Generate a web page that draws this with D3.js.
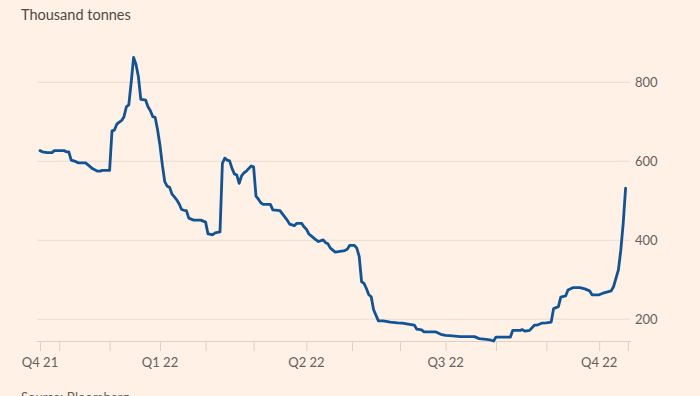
<!DOCTYPE html>
<html>
<head>
<meta charset="utf-8">
<script src="https://cdn.jsdelivr.net/npm/d3@7/dist/d3.min.js"></script>
<style>
  html, body { margin: 0; padding: 0; background: #fff1e5; }
  #chart { width: 700px; height: 396px; overflow: hidden; }
</style>
</head>
<body>
<div id="chart"></div>
<script>
// trading-day index since the start of the series, and LME stocks (thousand tonnes)
var days = [0, 1, 3, 5, 6, 10, 11, 12, 13, 15, 16, 19, 20, 22, 24, 25, 26, 29, 30, 31,
  32, 33, 34, 35, 36, 37, 38, 39, 40, 41, 42, 43, 44, 45, 46, 47, 48, 49, 50, 51,
  52, 53, 54, 55, 56, 57, 58, 59, 60, 61, 62, 64, 67, 69, 70, 72, 73, 75, 76, 77,
  78, 79, 80, 81, 82, 83, 84, 85, 86, 87, 88, 89, 90, 91, 92, 93, 96, 97, 100, 101,
  103, 104, 106, 107, 109, 110, 111, 112, 113, 115, 116, 118, 119, 120, 121, 123, 125, 127, 128, 129,
  131, 132, 133, 134, 135, 136, 137, 138, 139, 141, 143, 146, 149, 151, 154, 156, 157, 159, 160, 165,
  167, 169, 172, 175, 181, 183, 186, 188, 189, 190, 196, 197, 200, 201, 202, 204, 206, 207, 209, 211,
  213, 214, 216, 217, 219, 220, 222, 225, 227, 229, 230, 233, 235, 238, 239, 241, 242, 243, 244];
var tonnes = [627, 624, 622, 622, 627, 627, 624, 624, 603, 599, 596, 596, 591, 581, 575, 575, 577, 577, 677, 679,
  694, 699, 703, 713, 738, 743, 800, 863, 845, 814, 757, 756, 755, 738, 728, 713, 711, 679, 640, 590,
  548, 537, 534, 517, 510, 502, 492, 478, 476, 475, 456, 451, 451, 446, 416, 414, 419, 421, 595, 608,
  603, 601, 582, 568, 565, 544, 563, 571, 575, 582, 588, 586, 512, 504, 495, 491, 491, 477, 475, 467,
  451, 441, 437, 443, 443, 434, 428, 416, 411, 401, 397, 401, 394, 391, 380, 370, 372, 374, 377, 387,
  387, 380, 359, 295, 291, 278, 262, 257, 224, 196, 196, 193, 191, 190, 187, 185, 175, 173, 168, 168,
  162, 159, 158, 156, 156, 151, 149, 147, 145, 155, 155, 172, 172, 174, 170, 172, 185, 185, 190, 191,
  193, 227, 232, 256, 259, 274, 280, 280, 277, 272, 262, 262, 267, 272, 283, 325, 375, 443, 532];

var quarterTicks = [0, 50, 111, 169, 233];
var quarterLabels = ["Q4 21", "Q1 22", "Q2 22", "Q3 22", "Q4 22"];
var monthTicks = [0, 8, 29, 50, 69, 89, 111, 130, 150, 169, 190, 211, 233, 245];
var yTicks = [200, 400, 600, 800];

(function () {
  var width = 700;
  var height = 396;
  var font = "Lato, 'Open Sans', sans-serif";
  var textColor = "#66605c";

  var svg = d3.select("#chart").append("svg")
    .attr("width", width)
    .attr("height", height)
    .attr("viewBox", "0 0 " + width + " " + height);

  svg.append("rect")
    .attr("width", width)
    .attr("height", height)
    .attr("fill", "#fff1e5");

  var x = d3.scaleLinear().domain([0, 245]).range([40, 628]);
  var y = d3.scaleLinear().domain([145, 800]).range([341, 82.3]);

  // horizontal gridlines
  svg.append("g")
    .selectAll("line")
    .data(yTicks)
    .join("line")
    .attr("x1", 37)
    .attr("x2", 630)
    .attr("y1", function (d) { return y(d); })
    .attr("y2", function (d) { return y(d); })
    .attr("stroke", "#e9ddd2")
    .attr("stroke-width", 1);

  // y labels on the right
  svg.append("g")
    .selectAll("text")
    .data(yTicks)
    .join("text")
    .attr("x", 635)
    .attr("y", function (d) { return y(d); })
    .attr("dy", "0.35em")
    .attr("font-family", font)
    .attr("font-size", 13)
    .attr("fill", textColor)
    .text(function (d) { return d; });

  // bottom axis with monthly ticks, quarter labels
  var xAxis = svg.append("g")
    .attr("transform", "translate(0," + y(145) + ")")
    .call(d3.axisBottom(x)
      .tickValues(monthTicks)
      .tickSize(10)
      .tickFormat(""));

  xAxis.select(".domain")
    .attr("d", "M37,0.5H631")
    .attr("stroke", "#ddd1c6");
  xAxis.selectAll(".tick line")
    .attr("stroke", "#ddd1c6");

  svg.append("g")
    .selectAll("text")
    .data(quarterTicks)
    .join("text")
    .attr("x", function (d) { return x(d); })
    .attr("y", y(145) + 26)
    .attr("text-anchor", "middle")
    .attr("font-family", font)
    .attr("font-size", 13)
    .attr("fill", textColor)
    .text(function (d, i) { return quarterLabels[i]; });

  var points = days.map(function (d, i) {
    return [d, tonnes[i]];
  });

  var line = d3.line()
    .x(function (p) { return x(p[0]); })
    .y(function (p) { return y(p[1]); });

  svg.append("path")
    .datum(points)
    .attr("d", line)
    .attr("fill", "none")
    .attr("stroke", "#0f5499")
    .attr("stroke-width", 2.8)
    .attr("stroke-linejoin", "round")
    .attr("stroke-linecap", "round");

  svg.append("text")
    .attr("x", 21)
    .attr("y", 20)
    .attr("font-family", font)
    .attr("font-size", 14.5)
    .attr("fill", "#4e4945")
    .text("Thousand tonnes");

  svg.append("text")
    .attr("x", 21)
    .attr("y", 402)
    .attr("font-family", font)
    .attr("font-size", 13)
    .attr("fill", textColor)
    .text("Source: Bloomberg");
}());
</script>
</body>
</html>
